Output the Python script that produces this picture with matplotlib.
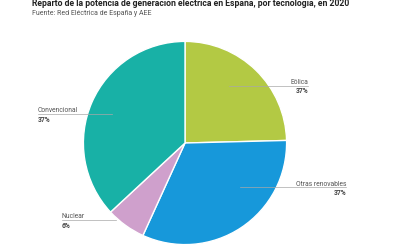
import matplotlib
matplotlib.use('Agg')
import matplotlib.pyplot as plt
from matplotlib.lines import Line2D

plt.rcParams['font.family'] = ['Roboto', 'DejaVu Sans']

# Data (slice sizes in %, labels as printed)
categories = ['Eólica', 'Otras renovables', 'Nuclear', 'Convencional']
values = [24.6, 32.2, 6.3, 36.9]
pct_labels = ['37%', '37%', '6%', '37%']
colors = ['#b3c944', '#1798da', '#cfa0cc', '#18b1a6']

W, H = 400, 250
fig = plt.figure(figsize=(4, 2.5), dpi=100)
fig.patch.set_facecolor('white')

# pie axes placed in pixel terms
cx, cy, r = 185, 143, 101.6
ax = fig.add_axes([(cx - r) / W, (H - cy - r) / H, 2 * r / W, 2 * r / H])
ax.pie(values, colors=colors, startangle=90, counterclock=False,
       wedgeprops=dict(edgecolor='white', linewidth=1.0))
ax.set_xlim(-1, 1)
ax.set_ylim(-1, 1)
ax.axis('off')


def fx(x):
    return x / W


def fy(y):
    return 1 - y / H


fig.text(fx(32), fy(3.5), 'Reparto de la potencia de generación eléctrica en España, por tecnología, en 2020',
         fontsize=6.2, fontweight='bold', color='#222222', va='center', ha='left')
fig.text(fx(32), fy(13), 'Fuente: Red Eléctrica de España y AEE',
         fontsize=5.0, color='#555555', va='center', ha='left')

# label layout: (text x, text y, alignment, line x0, line x1, line y)
label_pos = [
    (308, 82, 'right', 229, 308, 85.5),
    (346, 184, 'right', 240, 346, 187),
    (62, 216.5, 'left', 62, 116, 220),
    (38, 110.5, 'left', 38, 112, 114),
]

for cat, pct, (tx, ty, ha, lx0, lx1, ly) in zip(categories, pct_labels, label_pos):
    fig.text(fx(tx), fy(ty), cat, fontsize=4.9, color='#555555', ha=ha, va='center')
    fig.text(fx(tx), fy(ty + 9), pct, fontsize=4.9, color='#444444', fontweight='bold',
             ha=ha, va='center')
    fig.add_artist(Line2D([fx(lx0), fx(lx1)], [fy(ly), fy(ly)], color='#a8a8a8',
                          linewidth=0.5, zorder=10))

fig.savefig('out.png', dpi=100)
